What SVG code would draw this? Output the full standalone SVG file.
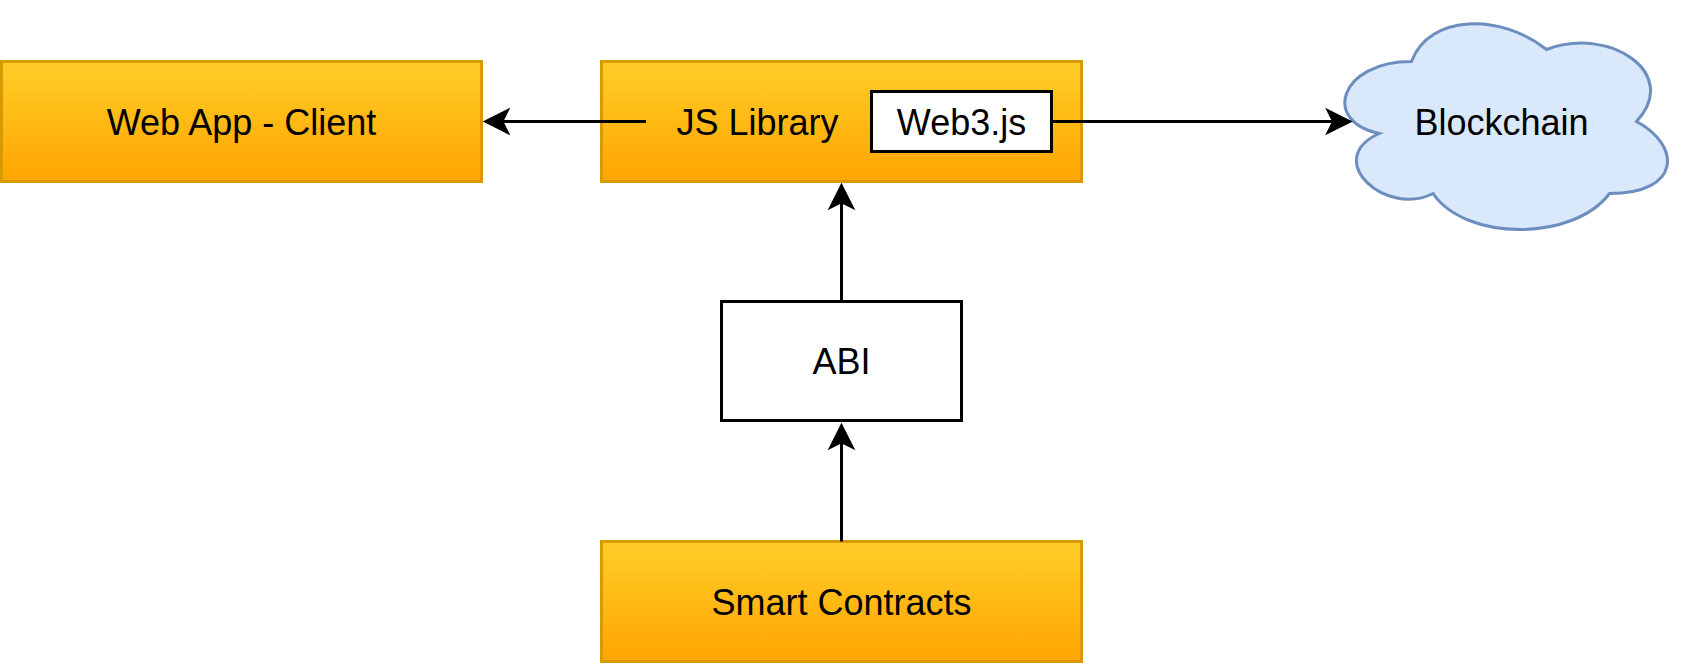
<svg xmlns="http://www.w3.org/2000/svg" width="1683" height="666" viewBox="0 0 1683 666">
  <style>
    .lbl { font-family: "Liberation Sans", Arial, sans-serif; font-size: 36px; fill: #000; text-anchor: middle; }
    .orange { fill: url(#gradOrange); stroke: #d79b00; stroke-width: 3; }
    .plain { fill: #ffffff; stroke: #000000; stroke-width: 3; }
    .cloud { fill: #dae8fc; stroke: #6c8ebf; stroke-width: 3; }
    .edge { fill: none; stroke: #000000; stroke-width: 3; marker-end: url(#arrow); }
  </style>
  <defs>
    <linearGradient id="gradOrange" x1="0" y1="0" x2="0" y2="1">
      <stop offset="0" stop-color="#ffcd28"/>
      <stop offset="1" stop-color="#ffa500"/>
    </linearGradient>
    <marker id="arrow" viewBox="-30 -15 35 30" refX="0" refY="0" markerWidth="35" markerHeight="30" markerUnits="userSpaceOnUse" orient="auto" overflow="visible">
      <path d="M0,0 L-21,-10.5 L-15.75,0 L-21,10.5 Z" fill="#000" stroke="#000" stroke-width="3"/>
    </marker>
  </defs>

  <rect width="1683" height="666" fill="#ffffff"/>

  <g id="web-app-client">
    <rect class="orange" x="1.5" y="61.5" width="480" height="120"/>
    <text class="lbl" x="241.5" y="134.5">Web App - Client</text>
  </g>

  <g id="js-library">
    <rect class="orange" x="601.5" y="61.5" width="480" height="120"/>
    <text class="lbl" x="757.5" y="134.5">JS Library</text>
  </g>

  <g id="web3js">
    <rect class="plain" x="871.5" y="91.5" width="180" height="60"/>
    <text class="lbl" x="961.5" y="134.5">Web3.js</text>
  </g>

  <g id="blockchain">
    <path class="cloud" d="M1411.5,61.5 C1339.5,61.5 1321.5,121.5 1379.1,133.5 C1321.5,159.9 1386.3,217.5 1433.1,193.5 C1465.5,241.5 1573.5,241.5 1609.5,193.5 C1681.5,193.5 1681.5,145.5 1636.5,121.5 C1681.5,73.5 1609.5,25.5 1546.5,49.5 C1501.5,13.5 1429.5,13.5 1411.5,61.5 Z"/>
    <text class="lbl" x="1501.5" y="134.5">Blockchain</text>
  </g>

  <g id="abi">
    <rect class="plain" x="721.5" y="301.5" width="240" height="119"/>
    <text class="lbl" x="841.5" y="374">ABI</text>
  </g>

  <g id="smart-contracts">
    <rect class="orange" x="601.5" y="541.5" width="480" height="120"/>
    <text class="lbl" x="841.5" y="614.5">Smart Contracts</text>
  </g>

  <g id="connectors">
    <path class="edge" d="M646,121.5 L486,121.5"/>
    <path class="edge" d="M1051.5,121.5 L1349.5,121.5"/>
    <path class="edge" d="M841.5,301.5 L841.5,186"/>
    <path class="edge" d="M841.5,541.5 L841.5,426"/>
  </g>
</svg>
